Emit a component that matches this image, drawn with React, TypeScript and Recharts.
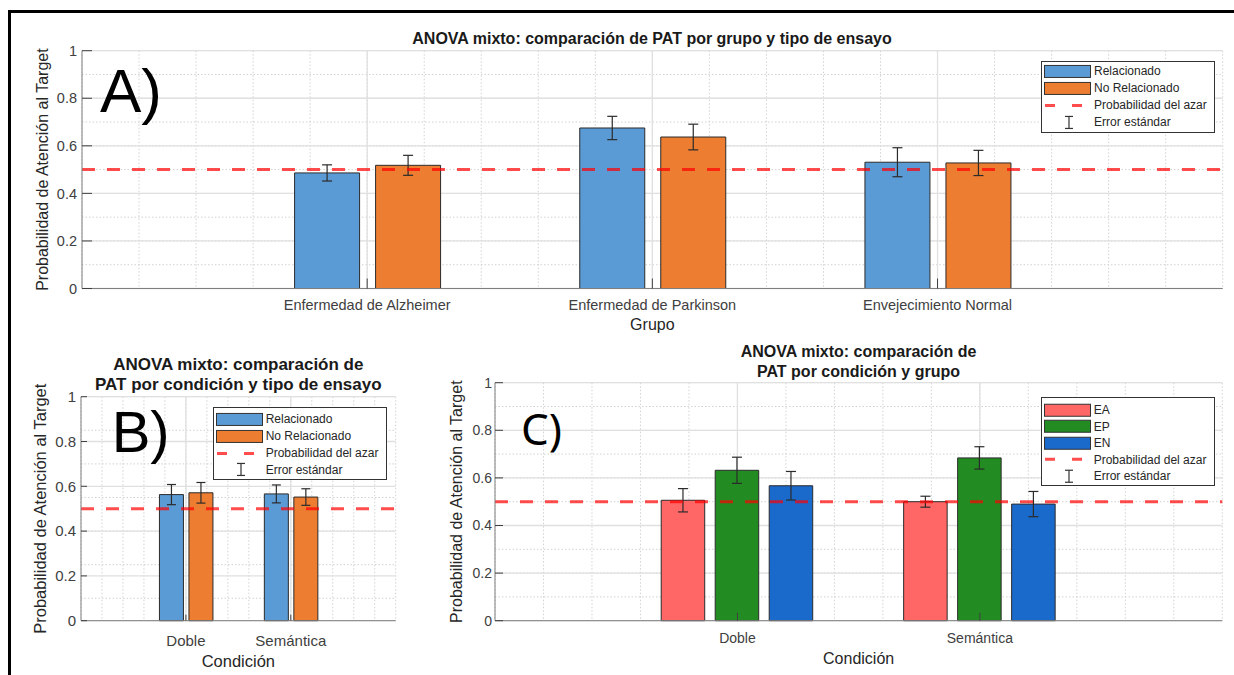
import React from 'react';
import { BarChart, Bar, XAxis, YAxis, CartesianGrid, ReferenceLine, ErrorBar, Legend, Label } from 'recharts';

const FONT = '"Liberation Sans", Arial, Helvetica, sans-serif';

// A) grupo x tipo de ensayo
const grupos = ['Enfermedad de Alzheimer', 'Enfermedad de Parkinson', 'Envejecimiento Normal'];
const grupoPos = [1, 2, 3];
const relGrupo = [0.486, 0.675, 0.531];
const relGrupoErr = [0.034, 0.049, 0.061];
const noRelGrupo = [0.518, 0.637, 0.528];
const noRelGrupoErr = [0.042, 0.054, 0.053];

// B) condicion x tipo de ensayo
const condiciones = ['Doble', 'Semántica'];
const condPos = [1, 2];
const relCond = [0.563, 0.566];
const relCondErr = [0.045, 0.04];
const noRelCond = [0.571, 0.552];
const noRelCondErr = [0.046, 0.037];

// C) condicion x grupo
const eaCond = [0.506, 0.5];
const eaCondErr = [0.049, 0.023];
const epCond = [0.632, 0.684];
const epCondErr = [0.055, 0.047];
const enCond = [0.567, 0.49];
const enCondErr = [0.06, 0.053];

const azar = 0.5;
const yTicks = [0, 0.2, 0.4, 0.6, 0.8, 1];
const yLabel = 'Probabilidad de Atención al Target';

const AZUL = '#5b9bd5';
const NARANJA = '#ed7d31';
const ROJO_EA = '#ff6666';
const VERDE_EP = '#228b22';
const AZUL_EN = '#1a6acc';

const dataA = grupoPos.map((pos, i) => ({
  pos,
  rel: relGrupo[i],
  relErr: relGrupoErr[i],
  noRel: noRelGrupo[i],
  noRelErr: noRelGrupoErr[i],
}));

const dataB = condPos.map((pos, i) => ({
  pos,
  rel: relCond[i],
  relErr: relCondErr[i],
  noRel: noRelCond[i],
  noRelErr: noRelCondErr[i],
}));

const dataC = condPos.map((pos, i) => ({
  pos,
  ea: eaCond[i],
  eaErr: eaCondErr[i],
  ep: epCond[i],
  epErr: epCondErr[i],
  en: enCond[i],
  enErr: enCondErr[i],
}));

const steps = (max: number, step: number) => {
  const out: number[] = [];
  for (let v = 0; v <= max + 1e-9; v += step) out.push(Math.round(v * 1000) / 1000);
  return out;
};

type LegendItem = { type: 'patch' | 'dash' | 'err'; label: string; color?: string };

const legendTipo: LegendItem[] = [
  { type: 'patch', color: AZUL, label: 'Relacionado' },
  { type: 'patch', color: NARANJA, label: 'No Relacionado' },
  { type: 'dash', label: 'Probabilidad del azar' },
  { type: 'err', label: 'Error estándar' },
];

const legendGrupo: LegendItem[] = [
  { type: 'patch', color: ROJO_EA, label: 'EA' },
  { type: 'patch', color: VERDE_EP, label: 'EP' },
  { type: 'patch', color: AZUL_EN, label: 'EN' },
  { type: 'dash', label: 'Probabilidad del azar' },
  { type: 'err', label: 'Error estándar' },
];

function LegendBox({ items, width, rowH, padTop }: { items: LegendItem[]; width: number; rowH: number; padTop: number }) {
  const mid = rowH / 2;
  return (
    <div
      style={{
        width,
        boxSizing: 'border-box',
        border: '1px solid #333',
        background: '#fff',
        paddingTop: padTop,
        paddingBottom: 1,
        fontFamily: FONT,
        fontSize: 12,
        color: '#262626',
      }}
    >
      {items.map((it) => (
        <div key={it.label} style={{ display: 'flex', alignItems: 'center', height: rowH }}>
          <svg width={52} height={rowH} style={{ flex: 'none', display: 'block' }}>
            {it.type === 'patch' && (
              <rect x={2.5} y={mid - 6} width={46} height={12} fill={it.color} stroke="#333" strokeWidth={1} />
            )}
            {it.type === 'dash' && (
              <line x1={3} x2={50} y1={mid} y2={mid} stroke="#ff0000" strokeOpacity={0.7} strokeWidth={3} strokeDasharray="10 17" />
            )}
            {it.type === 'err' && (
              <g stroke="#333" strokeWidth={1.2}>
                <line x1={27} x2={27} y1={mid - 6} y2={mid + 6} />
                <line x1={23} x2={31} y1={mid - 6} y2={mid - 6} />
                <line x1={23} x2={31} y1={mid + 6} y2={mid + 6} />
              </g>
            )}
          </svg>
          <span style={{ whiteSpace: 'nowrap' }}>{it.label}</span>
        </div>
      ))}
    </div>
  );
}

type Serie = { key: string; color: string };

type PanelProps = {
  data: any[];
  series: Serie[];
  width: number;
  height: number;
  margin: { top: number; right: number; bottom: number; left: number };
  yAxisWidth: number;
  xAxisHeight: number;
  xMax: number;
  pos: number[];
  labels: string[];
  tickLen: number;
  yTickMargin: number;
  xTickMargin: number;
  tickFont: number;
  labelFont: number;
  yLabelOffset: number;
  xLabel: string;
  xLabelOffset: number;
  barSize: number;
  barGap: number;
  cap: number;
  legend: { left: number; top: number; width: number; rowH: number; padTop: number; items: LegendItem[] };
};

function Panel(p: PanelProps) {
  const axisStroke = '#7f7f7f';
  const tickStyle = { fill: '#404040', fontSize: p.tickFont, fontFamily: FONT };
  return (
    <BarChart width={p.width} height={p.height} data={p.data} margin={p.margin} barGap={p.barGap}>
      <CartesianGrid
        horizontalValues={steps(1, 0.05)}
        verticalValues={steps(p.xMax, 0.2)}
        stroke="#d2d2d2"
        strokeDasharray="1.5 2"
      />
      <CartesianGrid horizontalValues={yTicks} verticalValues={p.pos} stroke="#e0e0e0" strokeWidth={1.3} />
      <XAxis
        dataKey="pos"
        type="number"
        domain={[0, p.xMax]}
        ticks={p.pos}
        interval={0}
        tickFormatter={(v: number) => p.labels[p.pos.indexOf(v)] ?? ''}
        height={p.xAxisHeight}
        tickSize={-p.tickLen}
        tickMargin={p.xTickMargin}
        stroke={axisStroke}
        tick={tickStyle}
        tickLine={{ stroke: '#404040' }}
      >
        <Label
          value={p.xLabel}
          position="insideBottom"
          offset={p.xLabelOffset}
          style={{ fill: '#262626', fontSize: p.labelFont, fontFamily: FONT }}
        />
      </XAxis>
      <XAxis
        xAxisId="top"
        orientation="top"
        type="number"
        domain={[0, p.xMax]}
        ticks={p.pos}
        height={0}
        tick={false}
        tickSize={-p.tickLen}
        stroke={axisStroke}
        tickLine={{ stroke: '#404040' }}
      />
      <YAxis
        type="number"
        domain={[0, 1]}
        ticks={yTicks}
        width={p.yAxisWidth}
        tickSize={-p.tickLen}
        tickMargin={p.yTickMargin}
        stroke={axisStroke}
        tick={tickStyle}
        tickLine={{ stroke: '#404040' }}
      >
        <Label
          value={yLabel}
          angle={-90}
          position="insideLeft"
          offset={p.yLabelOffset}
          style={{ textAnchor: 'middle', fill: '#262626', fontSize: p.labelFont, fontFamily: FONT }}
        />
      </YAxis>
      <YAxis
        yAxisId="right"
        orientation="right"
        type="number"
        domain={[0, 1]}
        ticks={yTicks}
        width={0}
        tick={false}
        tickSize={-p.tickLen}
        stroke={axisStroke}
        tickLine={{ stroke: '#404040' }}
      />
      {p.series.map((s) => (
        <Bar
          key={s.key}
          dataKey={s.key}
          fill={s.color}
          stroke="#2b2b2b"
          strokeWidth={1}
          barSize={p.barSize}
          isAnimationActive={false}
        >
          <ErrorBar dataKey={s.key + 'Err'} width={p.cap} stroke="#2b2b2b" strokeWidth={1.2} direction="y" isAnimationActive={false} />
        </Bar>
      ))}
      <ReferenceLine y={azar} stroke="#ff0000" strokeOpacity={0.7} strokeWidth={3} strokeDasharray="13 12" />
      <Legend
        layout="vertical"
        align="center"
        verticalAlign="middle"
        wrapperStyle={{ left: p.legend.left, top: p.legend.top, width: p.legend.width, height: 'auto' }}
        content={() => (
          <LegendBox items={p.legend.items} width={p.legend.width} rowH={p.legend.rowH} padTop={p.legend.padTop} />
        )}
      />
    </BarChart>
  );
}

export default function App() {
  return (
    <div style={{ position: 'fixed', left: 0, top: 0, width: 1234, height: 675, background: '#fff', overflow: 'hidden' }}>
      <div
        style={{
          position: 'absolute',
          left: 8,
          top: 10,
          width: 1400,
          height: 800,
          borderTop: '3px solid #000',
          borderLeft: '3px solid #000',
        }}
      />
      <div style={{ position: 'absolute', left: 0, top: 0 }}>
        <Panel
          data={dataA}
          series={[
            { key: 'rel', color: AZUL },
            { key: 'noRel', color: NARANJA },
          ]}
          width={1234}
          height={340}
          margin={{ top: 50.7, right: 11.3, bottom: 3.5, left: 0 }}
          yAxisWidth={82}
          xAxisHeight={48}
          xMax={4}
          pos={grupoPos}
          labels={grupos}
          tickLen={10}
          yTickMargin={15}
          xTickMargin={21.5}
          tickFont={14.5}
          labelFont={16}
          yLabelOffset={42}
          xLabel="Grupo"
          xLabelOffset={6.5}
          barSize={65}
          barGap={16}
          cap={5}
          legend={{ left: 1041, top: 61, width: 174, rowH: 16.9, padTop: 1, items: legendTipo }}
        />
      </div>
      <div style={{ position: 'absolute', left: 0, top: 340 }}>
        <Panel
          data={dataB}
          series={[
            { key: 'rel', color: AZUL },
            { key: 'noRel', color: NARANJA },
          ]}
          width={410}
          height={335}
          margin={{ top: 56.7, right: 14.3, bottom: 4.3, left: 0 }}
          yAxisWidth={81}
          xAxisHeight={50}
          xMax={3}
          pos={condPos}
          labels={condiciones}
          tickLen={6}
          yTickMargin={11}
          xTickMargin={20.3}
          tickFont={15}
          labelFont={16.5}
          yLabelOffset={40}
          xLabel="Condición"
          xLabelOffset={4}
          barSize={24}
          barGap={5.5}
          cap={4.5}
          legend={{ left: 212.7, top: 67.3, width: 174, rowH: 16.9, padTop: 2.5, items: legendTipo }}
        />
      </div>
      <div style={{ position: 'absolute', left: 430, top: 340 }}>
        <Panel
          data={dataC}
          series={[
            { key: 'ea', color: ROJO_EA },
            { key: 'ep', color: VERDE_EP },
            { key: 'en', color: AZUL_EN },
          ]}
          width={804}
          height={335}
          margin={{ top: 42.7, right: 11.7, bottom: 4.3, left: 0 }}
          yAxisWidth={65}
          xAxisHeight={50}
          xMax={3}
          pos={condPos}
          labels={condiciones}
          tickLen={8}
          yTickMargin={11}
          xTickMargin={20.7}
          tickFont={14}
          labelFont={16}
          yLabelOffset={26}
          xLabel="Condición"
          xLabelOffset={7.2}
          barSize={43.5}
          barGap={10.5}
          cap={5}
          legend={{ left: 610.7, top: 57.3, width: 174, rowH: 16.5, padTop: 3.5, items: legendGrupo }}
        />
      </div>
      <svg
        width={1234}
        height={675}
        style={{ position: 'absolute', left: 0, top: 0, pointerEvents: 'none' }}
      >
        <g fontFamily={FONT} fill="#1a1a1a" fontWeight="bold" textAnchor="middle">
          <text x={652} y={44} fontSize={16}>
            ANOVA mixto: comparación de PAT por grupo y tipo de ensayo
          </text>
          <text x={238.3} y={369.5} fontSize={17}>
            ANOVA mixto: comparación de
          </text>
          <text x={238.3} y={389.5} fontSize={17}>
            PAT por condición y tipo de ensayo
          </text>
          <text x={858.5} y={357} fontSize={16}>
            ANOVA mixto: comparación de
          </text>
          <text x={858.5} y={376.5} fontSize={16}>
            PAT por condición y grupo
          </text>
        </g>
        <text x={100} y={111.7} fontSize={62} fontFamily={FONT} fill="#000">
          A)
        </text>
        <text x={111.7} y={451.7} fontSize={58} fontFamily={FONT} fill="#000">
          B)
        </text>
        <text x={521} y={445} fontSize={44} fontFamily='"Noto Sans", sans-serif' fill="#000">
          C)
        </text>
      </svg>
    </div>
  );
}
